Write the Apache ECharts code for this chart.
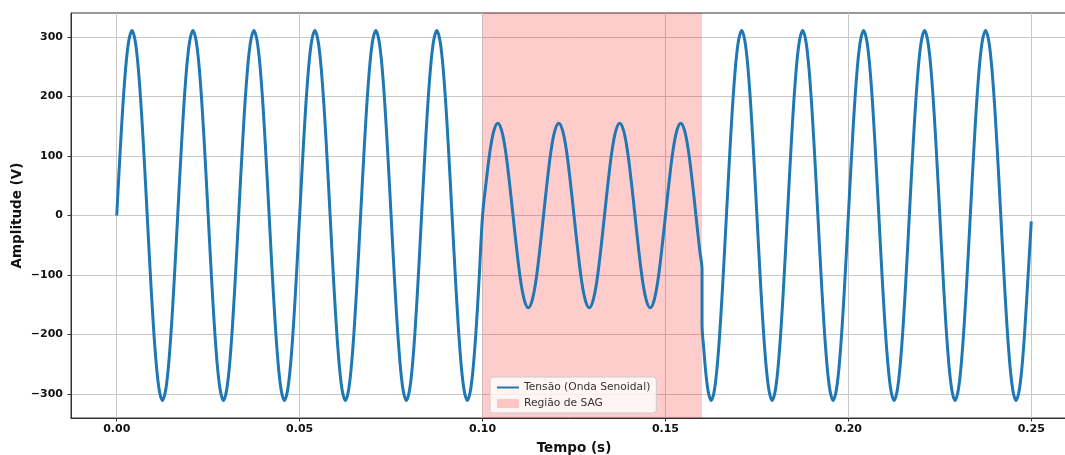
<!DOCTYPE html>
<html>
<head>
<meta charset="utf-8">
<script src="https://cdn.jsdelivr.net/npm/echarts@6/dist/echarts.min.js"></script>
<style>
html,body{margin:0;padding:0;background:#fff;}
#chart{width:1065px;height:455px;}
</style>
</head>
<body>
<div id="chart"></div>
<script>
// Sample times (s) at every 1/16 of a cycle
const times = [
  0, 0.001042, 0.002083, 0.003125, 0.004167, 0.005208, 0.00625, 0.007292, 0.008333, 0.009375, 0.010417, 0.011458, 0.0125, 0.013542, 0.014583, 0.015625,
  0.016667, 0.017708, 0.01875, 0.019792, 0.020833, 0.021875, 0.022917, 0.023958, 0.025, 0.026042, 0.027083, 0.028125, 0.029167, 0.030208, 0.03125, 0.032292,
  0.033333, 0.034375, 0.035417, 0.036458, 0.0375, 0.038542, 0.039583, 0.040625, 0.041667, 0.042708, 0.04375, 0.044792, 0.045833, 0.046875, 0.047917, 0.048958,
  0.05, 0.051042, 0.052083, 0.053125, 0.054167, 0.055208, 0.05625, 0.057292, 0.058333, 0.059375, 0.060417, 0.061458, 0.0625, 0.063542, 0.064583, 0.065625,
  0.066667, 0.067708, 0.06875, 0.069792, 0.070833, 0.071875, 0.072917, 0.073958, 0.075, 0.076042, 0.077083, 0.078125, 0.079167, 0.080208, 0.08125, 0.082292,
  0.083333, 0.084375, 0.085417, 0.086458, 0.0875, 0.088542, 0.089583, 0.090625, 0.091667, 0.092708, 0.09375, 0.094792, 0.095833, 0.096875, 0.097917, 0.098958,
  0.1, 0.101042, 0.102083, 0.103125, 0.104167, 0.105208, 0.10625, 0.107292, 0.108333, 0.109375, 0.110417, 0.111458, 0.1125, 0.113542, 0.114583, 0.115625,
  0.116667, 0.117708, 0.11875, 0.119792, 0.120833, 0.121875, 0.122917, 0.123958, 0.125, 0.126042, 0.127083, 0.128125, 0.129167, 0.130208, 0.13125, 0.132292,
  0.133333, 0.134375, 0.135417, 0.136458, 0.1375, 0.138542, 0.139583, 0.140625, 0.141667, 0.142708, 0.14375, 0.144792, 0.145833, 0.146875, 0.147917, 0.148958,
  0.15, 0.151042, 0.152083, 0.153125, 0.154167, 0.155208, 0.15625, 0.157292, 0.158333, 0.159375, 0.16, 0.16, 0.160417, 0.161458, 0.1625, 0.163542, 0.164583, 0.165625,
  0.166667, 0.167708, 0.16875, 0.169792, 0.170833, 0.171875, 0.172917, 0.173958, 0.175, 0.176042, 0.177083, 0.178125, 0.179167, 0.180208, 0.18125, 0.182292,
  0.183333, 0.184375, 0.185417, 0.186458, 0.1875, 0.188542, 0.189583, 0.190625, 0.191667, 0.192708, 0.19375, 0.194792, 0.195833, 0.196875, 0.197917, 0.198958,
  0.2, 0.201042, 0.202083, 0.203125, 0.204167, 0.205208, 0.20625, 0.207292, 0.208333, 0.209375, 0.210417, 0.211458, 0.2125, 0.213542, 0.214583, 0.215625,
  0.216667, 0.217708, 0.21875, 0.219792, 0.220833, 0.221875, 0.222917, 0.223958, 0.225, 0.226042, 0.227083, 0.228125, 0.229167, 0.230208, 0.23125, 0.232292,
  0.233333, 0.234375, 0.235417, 0.236458, 0.2375, 0.238542, 0.239583, 0.240625, 0.241667, 0.242708, 0.24375, 0.244792, 0.245833, 0.246875, 0.247917, 0.248958,
  0.25
];
// Voltage values (V)
const volts = [
  0, 119, 220, 287, 311, 287, 220, 119, 0, -119, -220, -287, -311, -287, -220, -119,
  0, 119, 220, 287, 311, 287, 220, 119, 0, -119, -220, -287, -311, -287, -220, -119,
  0, 119, 220, 287, 311, 287, 220, 119, 0, -119, -220, -287, -311, -287, -220, -119,
  0, 119, 220, 287, 311, 287, 220, 119, 0, -119, -220, -287, -311, -287, -220, -119,
  0, 119, 220, 287, 311, 287, 220, 119, 0, -119, -220, -287, -311, -287, -220, -119,
  0, 119, 220, 287, 311, 287, 220, 119, 0, -119, -220, -287, -311, -287, -220, -119,
  0, 59, 110, 143, 155, 143, 110, 59, 0, -59, -110, -143, -155, -143, -110, -59,
  0, 59, 110, 143, 155, 143, 110, 59, 0, -59, -110, -143, -155, -143, -110, -59,
  0, 59, 110, 143, 155, 143, 110, 59, 0, -59, -110, -143, -155, -143, -110, -59,
  0, 59, 110, 143, 155, 143, 110, 59, 0, -59, -91, -183, -220, -287, -311, -287, -220, -119,
  0, 119, 220, 287, 311, 287, 220, 119, 0, -119, -220, -287, -311, -287, -220, -119,
  0, 119, 220, 287, 311, 287, 220, 119, 0, -119, -220, -287, -311, -287, -220, -119,
  0, 119, 220, 287, 311, 287, 220, 119, 0, -119, -220, -287, -311, -287, -220, -119,
  0, 119, 220, 287, 311, 287, 220, 119, 0, -119, -220, -287, -311, -287, -220, -119,
  0, 119, 220, 287, 311, 287, 220, 119, 0, -119, -220, -287, -311, -287, -220, -119,
  -10
];
const sagStart = 0.10;
const sagEnd = 0.16;
const xTicks = [0, 0.05, 0.10, 0.15, 0.20, 0.25];
const yTicks = [-300, -200, -100, 0, 100, 200, 300];
const seriesName = 'Tensão (Onda Senoidal)';
const sagName = 'Região de SAG';

const lineData = times.map((t, i) => [t, volts[i]]);

const chart = echarts.init(document.getElementById('chart'), null, {renderer: 'canvas'});
const axisColor = '#333333';
const tickFont = {fontFamily: 'DejaVu Sans', fontWeight: 'bold', fontSize: 11, color: '#111'};

chart.setOption({
  animation: false,
  backgroundColor: '#ffffff',
  grid: {
    left: 71, top: 13, width: 1006, height: 405,
    containLabel: false,
    outerBoundsMode: 'none',
    show: true, borderColor: axisColor, borderWidth: 1, backgroundColor: 'transparent'
  },
  legend: {
    orient: 'vertical',
    left: 490, top: 377,
    padding: [5, 6, 4, 6],
    itemGap: 5,
    itemWidth: 22, itemHeight: 9,
    backgroundColor: 'rgba(255,255,255,0.8)',
    borderColor: '#cccccc', borderWidth: 1, borderRadius: 3,
    textStyle: {fontFamily: 'DejaVu Sans', fontSize: 10.7, color: '#333'},
    data: [
      {name: seriesName, itemStyle: {opacity: 0}},
      {name: sagName, icon: 'rect', itemStyle: {color: 'rgba(255,0,0,0.2)'}}
    ]
  },
  xAxis: {
    type: 'value',
    min: -0.0125, max: 0.2625,
    name: 'Tempo (s)', nameLocation: 'middle', nameGap: 23,
    nameMoveOverlap: false,
    nameTextStyle: {fontFamily: 'DejaVu Sans', fontWeight: 'bold', fontSize: 13.5, color: '#111'},
    axisLine: {show: true, onZero: false, lineStyle: {color: axisColor, width: 1}},
    axisTick: {show: true, length: 3.5, customValues: xTicks, lineStyle: {color: axisColor}},
    axisLabel: Object.assign({margin: 6, customValues: xTicks, formatter: v => v.toFixed(2)}, tickFont),
    splitLine: {show: true, lineStyle: {color: '#c8c8c8', width: 1}}
  },
  yAxis: {
    type: 'value',
    min: -340.5, max: 340.5,
    name: 'Amplitude (V)', nameLocation: 'middle', nameGap: 47, nameRotate: 90,
    nameMoveOverlap: false,
    nameTextStyle: {fontFamily: 'DejaVu Sans', fontWeight: 'bold', fontSize: 13.5, color: '#111'},
    axisLine: {show: true, onZero: false, lineStyle: {color: axisColor, width: 1}},
    axisTick: {show: true, length: 3.5, customValues: yTicks, lineStyle: {color: axisColor}},
    axisLabel: Object.assign({margin: 8, customValues: yTicks, formatter: v => (v < 0 ? '\u2212' + Math.abs(v) : String(v))}, tickFont),
    splitLine: {show: true, lineStyle: {color: '#c8c8c8', width: 1}}
  },
  series: [
    {
      name: sagName,
      type: 'line',
      data: [],
      z: 1,
      color: 'rgba(255,0,0,0.2)',
      markArea: {
        silent: true,
        itemStyle: {color: 'rgba(255,0,0,0.2)'},
        data: [[{xAxis: sagStart}, {xAxis: sagEnd}]]
      }
    },
    {
      name: seriesName,
      type: 'line',
      data: lineData,
      z: 3,
      color: '#1f77b4',
      symbol: 'none',
      showSymbol: false,
      smooth: 0.35,
      lineStyle: {color: '#1f77b4', width: 3}
    }
  ]
});
</script>
</body>
</html>
